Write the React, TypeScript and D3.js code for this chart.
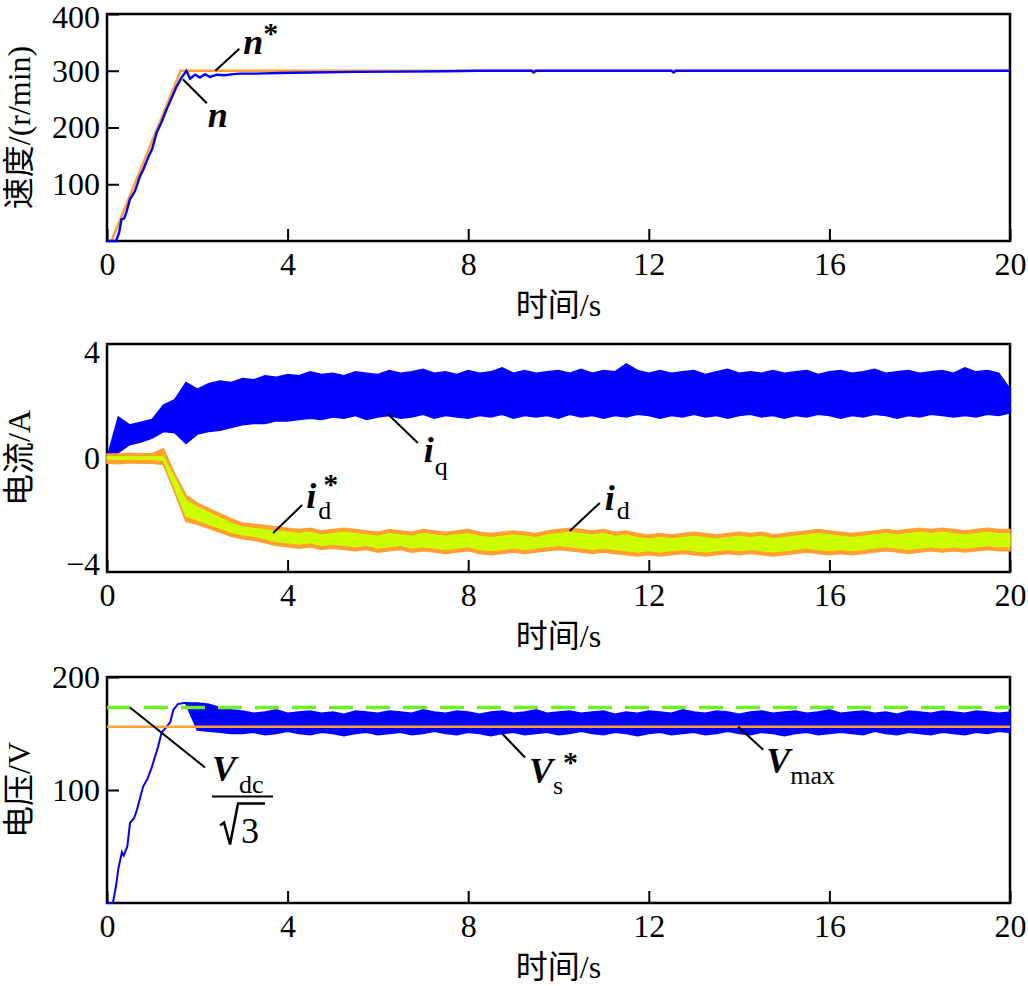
import * as d3 from 'd3';
import React, { useEffect, useRef } from 'react';

const W = 1028, H = 986;

// sample times of the noisy traces (s), one every 0.25 s
const tGrid = d3.range(0, 20.0001, 0.25);
const xTicks = [0, 4, 8, 12, 16, 20];

// ---- speed panel (r/min)
const speedTicks = [100, 200, 300, 400];
const nRefT = [0, 0.1, 1.63, 20];
const nRefV = [0, 0, 300, 300];
const nT = [0, 0.2, 0.27, 0.32, 0.38, 0.43, 0.51, 0.56, 0.62, 0.73, 0.8, 0.92, 1.0, 1.1, 1.2, 1.32, 1.42, 1.54,
  1.65, 1.76, 1.84, 1.95, 2.06, 2.17, 2.28, 2.43, 2.6, 2.8, 2.95, 3.3, 3.8, 4.5, 5.5, 6.5, 7.5, 8.2,
  9.4, 9.45, 9.5, 12.5, 12.55, 12.6, 20];
const nV = [0, 0, 15, 38, 40, 51, 74, 80, 88, 114, 125, 149, 162, 191, 208, 232, 250, 272,
  288, 300, 286, 293, 288, 294, 289, 293, 292, 294, 295, 295, 296, 297, 298, 298.5, 299, 300,
  300, 297, 300, 300, 297, 300, 300];

// ---- current panel (A), envelopes of the noisy traces on tGrid
const currentTicks = [-4, 0, 4];
const iqHi = [
  0.0, 1.55, 1.25, 1.35, 1.45,
  2.0, 2.2, 2.85, 2.6, 2.8, 2.9, 2.85, 3.0,
  2.95, 3.1, 3.05, 3.15, 3.1, 3.25, 3.15, 3.2, 3.1, 3.25, 3.2, 3.15,
  3.3, 3.2, 3.25, 3.35, 3.2, 3.25, 3.15, 3.3, 3.2, 3.25, 3.4, 3.2,
  3.3, 3.2, 3.25, 3.3, 3.2, 3.35, 3.2, 3.3, 3.25, 3.55, 3.3, 3.2,
  3.3, 3.2, 3.25, 3.3, 3.15, 3.25, 3.35, 3.2, 3.25, 3.2, 3.3, 3.2,
  3.25, 3.3, 3.15, 3.25, 3.3, 3.2, 3.25, 3.35, 3.2, 3.25, 3.3, 3.2,
  3.25, 3.3, 3.2, 3.4, 3.25, 3.3, 3.2, 2.6,
];
const iqLo = [
  -0.1, 0.2, 0.5, 0.6, 0.75,
  1.0, 0.95, 0.55, 0.9, 1.0, 1.05, 1.15, 1.25,
  1.3, 1.3, 1.4, 1.4, 1.45, 1.5, 1.45, 1.55, 1.5, 1.6, 1.45, 1.55,
  1.6, 1.5, 1.55, 1.65, 1.5, 1.6, 1.55, 1.5, 1.6, 1.55, 1.65, 1.5,
  1.6, 1.55, 1.6, 1.5, 1.65, 1.55, 1.6, 1.5, 1.6, 1.55, 1.65, 1.6,
  1.5, 1.6, 1.55, 1.65, 1.55, 1.6, 1.5, 1.6, 1.65, 1.55, 1.6, 1.5,
  1.6, 1.55, 1.65, 1.6, 1.5, 1.6, 1.55, 1.65, 1.6, 1.5, 1.6, 1.55,
  1.65, 1.6, 1.55, 1.6, 1.55, 1.65, 1.6, 1.7,
];
const idHi = [
  0.15, 0.15, 0.18, 0.15, 0.17,
  0.35, -0.6, -1.4, -1.7, -1.9, -2.1, -2.3, -2.45,
  -2.5, -2.55, -2.6, -2.65, -2.7, -2.65, -2.75, -2.7, -2.65, -2.7, -2.75, -2.8,
  -2.7, -2.75, -2.8, -2.7, -2.75, -2.8, -2.75, -2.7, -2.8, -2.85, -2.8, -2.75,
  -2.8, -2.85, -2.75, -2.7, -2.65, -2.7, -2.75, -2.7, -2.8, -2.75, -2.85, -2.9,
  -2.85, -2.9, -2.85, -2.8, -2.85, -2.9, -2.85, -2.8, -2.85, -2.8, -2.9, -2.85,
  -2.8, -2.75, -2.7, -2.75, -2.8, -2.85, -2.8, -2.75, -2.7, -2.75, -2.7, -2.65,
  -2.7, -2.65, -2.7, -2.75, -2.7, -2.65, -2.7, -2.7,
];
const idLo = [
  -0.2, -0.22, -0.18, -0.2, -0.2,
  -0.25, -1.3, -2.4, -2.5, -2.65, -2.8, -2.95, -3.05,
  -3.1, -3.2, -3.3, -3.35, -3.4, -3.35, -3.45, -3.4, -3.45, -3.5, -3.45, -3.55,
  -3.5, -3.45, -3.55, -3.5, -3.55, -3.6, -3.55, -3.5, -3.6, -3.65, -3.6, -3.55,
  -3.6, -3.55, -3.5, -3.45, -3.5, -3.55, -3.6, -3.55, -3.6, -3.65, -3.7, -3.65,
  -3.7, -3.65, -3.6, -3.65, -3.7, -3.65, -3.6, -3.65, -3.6, -3.65, -3.7, -3.65,
  -3.6, -3.55, -3.6, -3.65, -3.6, -3.65, -3.6, -3.55, -3.5, -3.55, -3.6, -3.55,
  -3.5, -3.55, -3.5, -3.55, -3.5, -3.45, -3.5, -3.5,
];
const idRefHi = [
  0.05, 0.05, 0.05, 0.05, 0.05,
  0.05, -0.75, -1.6, -1.85, -2.05, -2.25, -2.45, -2.6,
  -2.65, -2.7, -2.75, -2.8, -2.85, -2.8, -2.9, -2.85, -2.8, -2.85, -2.9, -2.95,
  -2.85, -2.9, -2.95, -2.85, -2.9, -2.95, -2.9, -2.85, -2.95, -3.0, -2.95, -2.9,
  -2.95, -3.0, -2.9, -2.85, -2.8, -2.85, -2.9, -2.85, -2.95, -2.9, -3.0, -3.05,
  -3.0, -3.05, -3.0, -2.95, -3.0, -3.05, -3.0, -2.95, -3.0, -2.95, -3.05, -3.0,
  -2.95, -2.9, -2.85, -2.9, -2.95, -3.0, -2.95, -2.9, -2.85, -2.9, -2.85, -2.8,
  -2.85, -2.8, -2.85, -2.9, -2.85, -2.8, -2.85, -2.85,
];
const idRefLo = [
  -0.05, -0.05, -0.05, -0.05, -0.05,
  -0.1, -1.15, -2.2, -2.35, -2.5, -2.65, -2.8, -2.9,
  -2.95, -3.05, -3.15, -3.2, -3.25, -3.2, -3.3, -3.25, -3.3, -3.35, -3.3, -3.4,
  -3.35, -3.3, -3.4, -3.35, -3.4, -3.45, -3.4, -3.35, -3.45, -3.5, -3.45, -3.4,
  -3.45, -3.4, -3.35, -3.3, -3.35, -3.4, -3.45, -3.4, -3.45, -3.5, -3.55, -3.5,
  -3.55, -3.5, -3.45, -3.5, -3.55, -3.5, -3.45, -3.5, -3.45, -3.5, -3.55, -3.5,
  -3.45, -3.4, -3.45, -3.5, -3.45, -3.5, -3.45, -3.4, -3.35, -3.4, -3.45, -3.4,
  -3.35, -3.4, -3.35, -3.4, -3.35, -3.3, -3.35, -3.35,
];

// ---- voltage panel (V)
const voltageTicks = [100, 200];
const vdcLimit = 173; // Vdc/sqrt(3)
const vMax = 156;
const vsRampT = [0, 0.13, 0.2, 0.25, 0.33, 0.37, 0.45, 0.51, 0.6, 0.66, 0.8, 0.9, 0.99, 1.13, 1.21, 1.3, 1.4, 1.47, 1.57, 1.7, 1.84];
const vsRampV = [0, 0, 15, 30, 45, 42, 50, 71, 75, 82, 103, 110, 120, 138, 151, 155, 160, 171, 176, 177, 177];
const vsBandStart = 7; // index in tGrid (t = 1.75 s)
const vsHi = [
  177, 177, 176, 173, 171,
  170, 168, 169, 171, 168, 169, 170, 168, 169, 167,
  170, 169, 168, 170, 169, 168, 171, 169, 168, 170,
  169, 167, 169, 170, 168, 169, 171, 168, 169, 170,
  168, 169, 170, 167, 169, 168, 170, 169, 168, 171,
  169, 168, 170, 169, 167, 169, 170, 168, 169, 170,
  168, 169, 171, 168, 169, 170, 168, 169, 167, 170,
  169, 168, 170, 169, 168, 170, 169, 168, 169,
];
const vsLo = [
  176, 153, 152, 151, 150,
  150, 151, 149, 150, 152, 150, 149, 151, 150, 148,
  150, 151, 149, 150, 151, 149, 150, 152, 150, 149,
  151, 150, 148, 150, 151, 149, 150, 151, 149, 150,
  152, 150, 149, 151, 150, 148, 150, 151, 149, 150,
  151, 149, 150, 152, 150, 149, 151, 150, 148, 150,
  151, 149, 150, 151, 150, 149, 152, 150, 149, 151,
  150, 149, 151, 150, 149, 151, 150, 152, 151,
];

const BLUE = '#0000ff';
const ORANGE = '#ffa030';
const YELLOW = '#ccff00';
const GREEN = '#6cf020';
const SERIF = "'Liberation Serif', 'Times New Roman', serif";
const CJK = "'Liberation Serif', 'Noto Sans CJK SC', serif";

const App = () => {
  const ref = useRef<SVGSVGElement>(null);

  useEffect(() => {
    const svg = d3.select(ref.current);
    svg.selectAll('*').remove();

    const x = d3.scaleLinear().domain([0, 20]).range([107, 1010]);

    const panels = [
      { top: 14, bottom: 241, domain: [0, 400], ticks: speedTicks, marks: true, label: '速度/(r/min)' },
      { top: 344, bottom: 572, domain: [-4.3, 4.3], ticks: currentTicks, marks: false, label: '电流/A' },
      { top: 677, bottom: 903, domain: [0, 200], ticks: voltageTicks, marks: true, label: '电压/V' },
    ];
    const ys = panels.map(p => d3.scaleLinear().domain(p.domain).range([p.bottom, p.top]));

    panels.forEach((p, k) => {
      const g = svg.append('g');
      g.append('rect')
        .attr('x', x(0)).attr('y', p.top)
        .attr('width', x(20) - x(0)).attr('height', p.bottom - p.top)
        .attr('fill', 'none').attr('stroke', '#000').attr('stroke-width', 2.5);

      const xa = g.append('g')
        .attr('transform', `translate(0,${p.bottom})`)
        .call(d3.axisBottom(x).tickValues(xTicks).tickSize(-12).tickPadding(11));
      const ya = g.append('g')
        .attr('transform', `translate(${x(0)},0)`)
        .call(d3.axisLeft(ys[k]).tickValues(p.ticks).tickSize(p.marks ? -12 : 0).tickPadding(7));
      [xa, ya].forEach(a => {
        a.select('.domain').remove();
        a.attr('font-family', SERIF).attr('font-size', 32);
        a.selectAll('line').attr('stroke', '#000').attr('stroke-width', 2);
        a.selectAll('text').attr('fill', '#000');
      });
      // keep the topmost label inside the page
      if (k === 0) ya.selectAll('text').filter(d => d === 400).attr('dy', '0.42em');

      g.append('text')
        .attr('x', (x(0) + x(20)) / 2).attr('y', p.bottom + 75)
        .attr('text-anchor', 'middle')
        .attr('font-family', CJK).attr('font-size', 32)
        .text('时间/s');

      g.append('text')
        .attr('transform', `translate(19,${(p.top + p.bottom) / 2}) rotate(-90)`)
        .attr('text-anchor', 'middle').attr('dominant-baseline', 'central')
        .attr('font-family', CJK).attr('font-size', 32)
        .text(p.label);
    });

    const [y1, y2, y3] = ys;

    const line = (t: number[], v: number[], y) =>
      d3.line<number>().x(i => x(t[i])).y(i => y(v[i]))(d3.range(t.length));
    const band = (t: number[], hi: number[], lo: number[], y) =>
      d3.area<number>().x(i => x(t[i])).y0(i => y(lo[i])).y1(i => y(hi[i]))(d3.range(t.length));

    // speed
    svg.append('path').attr('d', line(nRefT, nRefV, y1))
      .attr('fill', 'none').attr('stroke', ORANGE).attr('stroke-width', 2.5);
    svg.append('path').attr('d', line(nT, nV, y1))
      .attr('fill', 'none').attr('stroke', BLUE).attr('stroke-width', 2.4);

    // current
    svg.append('path').attr('d', band(tGrid, iqHi, iqLo, y2))
      .attr('fill', BLUE).attr('stroke', BLUE).attr('stroke-width', 1.5);
    svg.append('path').attr('d', band(tGrid, idHi, idLo, y2))
      .attr('fill', ORANGE).attr('stroke', ORANGE).attr('stroke-width', 1.5);
    svg.append('path').attr('d', band(tGrid, idRefHi, idRefLo, y2))
      .attr('fill', YELLOW).attr('stroke', YELLOW).attr('stroke-width', 1);

    // voltage
    svg.append('path').attr('d', line(vsRampT, vsRampV, y3))
      .attr('fill', 'none').attr('stroke', BLUE).attr('stroke-width', 2);
    svg.append('path').attr('d', band(tGrid.slice(vsBandStart), vsHi, vsLo, y3))
      .attr('fill', BLUE).attr('stroke', BLUE).attr('stroke-width', 1.5);
    svg.append('line')
      .attr('x1', x(0)).attr('x2', x(20)).attr('y1', y3(vMax)).attr('y2', y3(vMax))
      .attr('stroke', ORANGE).attr('stroke-width', 2.5);
    svg.append('line')
      .attr('x1', x(0)).attr('x2', x(20)).attr('y1', y3(vdcLimit)).attr('y2', y3(vdcLimit))
      .attr('stroke', GREEN).attr('stroke-width', 3.5).attr('stroke-dasharray', '24 13');

    // annotations: anchor on the data, leader offset in px, then the label parts
    const leader = (px: number, py: number, dx: number, dy: number) => {
      svg.append('line').attr('x1', px).attr('y1', py).attr('x2', px + dx).attr('y2', py + dy)
        .attr('stroke', '#000').attr('stroke-width', 2);
      return [px + dx, py + dy];
    };
    const txt = (tx: number, ty: number, s: string, size: number, italic = false) =>
      svg.append('text').attr('x', tx).attr('y', ty)
        .attr('font-family', SERIF).attr('font-size', size)
        .attr('font-style', italic ? 'italic' : 'normal')
        .attr('font-weight', italic ? 'bold' : 'normal')
        .text(s);

    let e = leader(x(2.4), y1(300), 24, -22);
    txt(e[0] + 4, e[1] + 5, 'n', 36, true);
    txt(e[0] + 24, e[1] - 6, '*', 30).attr('font-weight', 'bold');

    e = leader(x(1.68), y1(285), 24, 24);
    txt(e[0] + 1, e[1] + 24, 'n', 36, true);

    e = leader(x(6.22), y2(1.66), 30, 29);
    txt(e[0] + 6, e[1] + 19, 'i', 36, true);
    txt(e[0] + 17, e[1] + 32, 'q', 26);

    e = leader(x(10.25), y2(-2.75), 30, -28);
    txt(e[0] + 5, e[1] + 7, 'i', 36, true);
    txt(e[0] + 17, e[1] + 16, 'd', 26);

    e = leader(x(3.68), y2(-2.83), 29, -28);
    txt(e[0] + 4, e[1] + 3, 'i', 36, true);
    txt(e[0] + 21, e[1] - 11, '*', 30).attr('font-weight', 'bold');
    txt(e[0] + 16, e[1] + 14, 'd', 26);

    e = leader(x(0.51), y3(vdcLimit), 75, 60);
    txt(e[0] + 7, e[1] + 13, 'V', 36, true);
    txt(e[0] + 34, e[1] + 25, 'dc', 26);
    svg.append('line').attr('x1', e[0] + 7).attr('x2', e[0] + 68)
      .attr('y1', e[1] + 29).attr('y2', e[1] + 29)
      .attr('stroke', '#000').attr('stroke-width', 2);
    svg.append('path')
      .attr('d', `M${e[0] + 15},${e[1] + 58} L${e[0] + 19},${e[1] + 55} L${e[0] + 25},${e[1] + 77} L${e[0] + 33},${e[1] + 36} L${e[0] + 60},${e[1] + 36}`)
      .attr('fill', 'none').attr('stroke', '#000').attr('stroke-width', 2.5);
    txt(e[0] + 36, e[1] + 75, '3', 36);

    e = leader(x(8.75), y3(150), 23, 24);
    txt(e[0] + 4, e[1] + 25, 'V', 36, true);
    txt(e[0] + 28, e[1] + 36, 's', 26);
    txt(e[0] + 38, e[1] + 14, '*', 30).attr('font-weight', 'bold');

    e = leader(x(13.98), y3(vMax), 25, 23);
    txt(e[0] + 3, e[1] + 23, 'V', 36, true);
    txt(e[0] + 27, e[1] + 34, 'max', 26);
  }, []);

  return (
    <svg ref={ref} width={W} height={H}
      style={{ position: 'absolute', left: 0, top: 0, background: '#fff' }} />
  );
};

export default App;
